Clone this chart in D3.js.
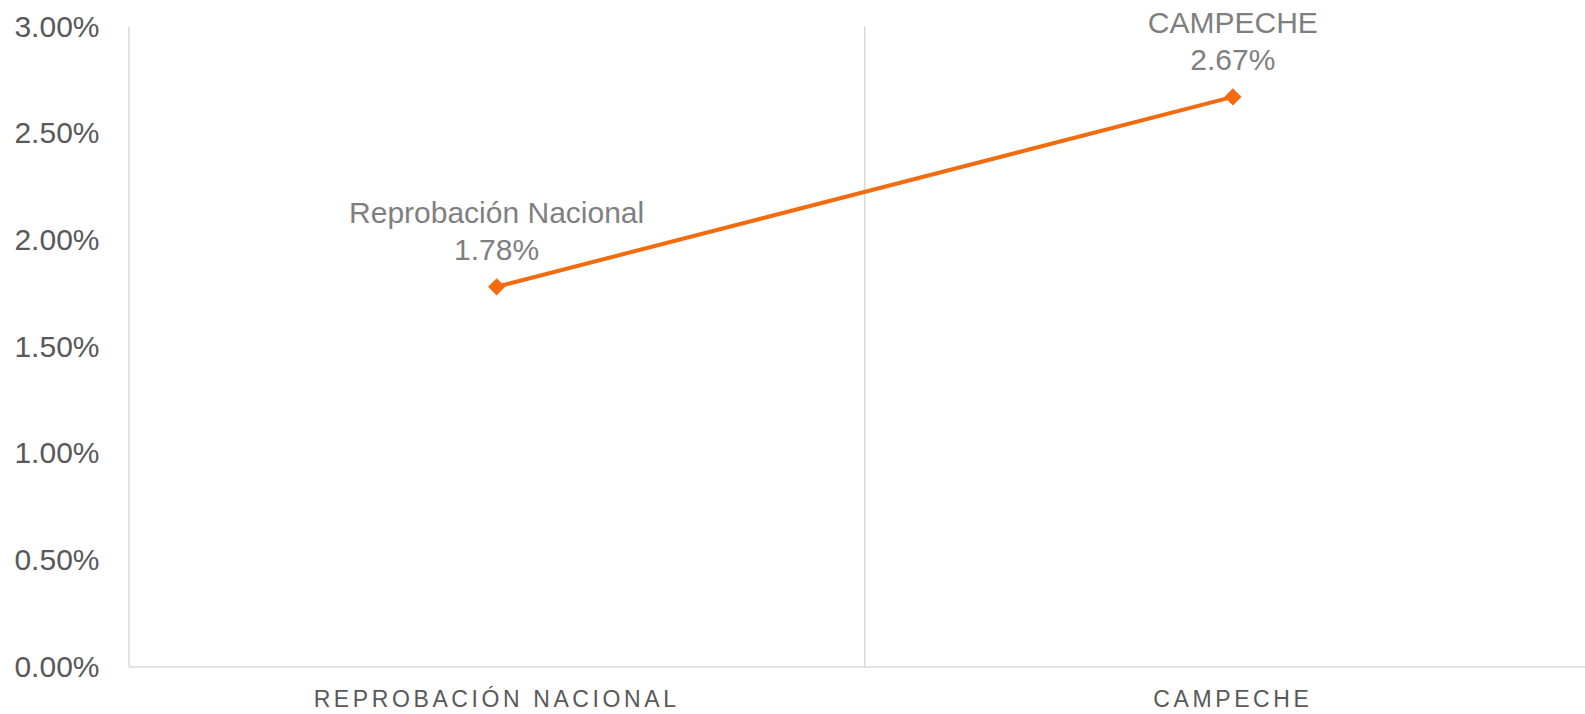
<!DOCTYPE html>
<html>
<head>
<meta charset="utf-8">
<script src="https://cdn.jsdelivr.net/npm/d3@7"></script>
<style>
  body { margin: 0; background: #fff; }
  svg { display: block; font-family: "Liberation Sans", Arial, sans-serif; }
</style>
</head>
<body>
<div id="chart"></div>
<script>
const categories = ["Reprobación Nacional", "CAMPECHE"];
const axisLabels = ["REPROBACIÓN NACIONAL", "CAMPECHE"];
const values = [0.0178, 0.0267];
const yTicks = [0, 0.005, 0.01, 0.015, 0.02, 0.025, 0.03];

const w = 1585;
const h = 714;
const plotLeft = 128.5;
const plotRight = 1601;
const plotTop = 26.5;
const plotBottom = 666.5;

const svg = d3.select("#chart")
    .append("svg")
    .attr("width", w)
    .attr("height", h);

const xScale = d3.scaleBand()
    .domain(categories)
    .range([plotLeft, plotRight])
    .padding(0);

const yScale = d3.scaleLinear()
    .domain([0, 0.03])
    .range([plotBottom, plotTop]);

// vertical lines between categories
svg.append("g")
    .selectAll("line")
    .data(categories.slice(1))
    .enter()
    .append("line")
    .attr("x1", d => xScale(d))
    .attr("x2", d => xScale(d))
    .attr("y1", plotTop)
    .attr("y2", plotBottom)
    .attr("stroke", "#d9d9d9")
    .attr("stroke-width", 1.5);

// Y axis
const yAxis = d3.axisLeft(yScale)
    .tickValues(yTicks)
    .tickSize(0)
    .tickPadding(29)
    .tickFormat(d3.format(".2%"));

const gy = svg.append("g")
    .attr("transform", `translate(${plotLeft}, 0)`)
    .call(yAxis);
gy.select(".domain").attr("stroke", "#d9d9d9").attr("stroke-width", 1.5);
gy.selectAll("text")
    .attr("fill", "#595959")
    .attr("font-size", 30)
    .attr("font-family", "Liberation Sans, Arial, sans-serif");

// X axis
const xAxis = d3.axisBottom(xScale)
    .tickSize(0)
    .tickFormat((d, i) => axisLabels[i]);

const gx = svg.append("g")
    .attr("transform", `translate(0, ${plotBottom})`)
    .call(xAxis);
gx.select(".domain").attr("stroke", "#d9d9d9").attr("stroke-width", 1.5);
gx.selectAll("text")
    .attr("fill", "#595959")
    .attr("font-size", 23)
    .attr("font-family", "Liberation Sans, Arial, sans-serif")
    .attr("letter-spacing", "3.6px")
    .attr("y", 40.5)
    .attr("dy", 0);

const cx = d => xScale(d) + xScale.bandwidth() / 2;

// line
const line = d3.line()
    .x((d, i) => cx(categories[i]))
    .y(d => yScale(d));

svg.append("path")
    .datum(values)
    .attr("d", line)
    .attr("fill", "none")
    .attr("stroke", "#f26b0f")
    .attr("stroke-width", 4);

// markers
svg.selectAll(".marker")
    .data(values)
    .enter()
    .append("path")
    .attr("class", "marker")
    .attr("d", d3.symbol().type(d3.symbolDiamond2).size(190))
    .attr("transform", (d, i) => `translate(${cx(categories[i])}, ${yScale(d)})`)
    .attr("fill", "#f26b0f");

// data labels
const labels = svg.selectAll(".label")
    .data(values)
    .enter()
    .append("g")
    .attr("class", "label")
    .attr("transform", (d, i) => `translate(${cx(categories[i])}, ${yScale(d)})`);

labels.append("text")
    .attr("text-anchor", "middle")
    .attr("y", -64)
    .attr("fill", "#7f7f7f")
    .attr("font-size", 30)
    .text((d, i) => categories[i]);

labels.append("text")
    .attr("text-anchor", "middle")
    .attr("y", -26.5)
    .attr("fill", "#7f7f7f")
    .attr("font-size", 30)
    .text(d => d3.format(".2%")(d));
</script>
</body>
</html>
